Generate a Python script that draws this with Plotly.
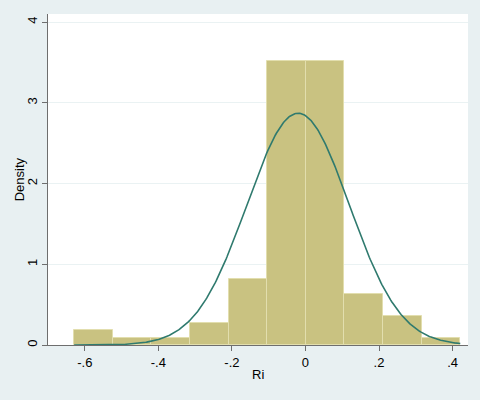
import plotly.graph_objects as go
import numpy as np

# Histogram bins (edges) and densities
bin_edges = [-0.629, -0.524, -0.419, -0.314, -0.209, -0.104, 0.001, 0.106, 0.211, 0.316, 0.421]
densities = [0.18, 0.09, 0.09, 0.27, 0.82, 3.52, 3.52, 0.63, 0.36, 0.09]

# Normal density overlay parameters
normal_mean = -0.020
normal_sd = 0.139

x_tickvals = [-0.6, -0.4, -0.2, 0, 0.2, 0.4]
x_ticktext = ["-.6", "-.4", "-.2", "0", ".2", ".4"]
y_tickvals = [0, 1, 2, 3, 4]
y_ticktext = ["0", "1", "2", "3", "4"]
x_title = "Ri"
y_title = "Density"

centers = [(a + b) / 2 for a, b in zip(bin_edges[:-1], bin_edges[1:])]
widths = [b - a for a, b in zip(bin_edges[:-1], bin_edges[1:])]

xs = np.linspace(bin_edges[0], bin_edges[-1], 400)
ys = np.exp(-0.5 * ((xs - normal_mean) / normal_sd) ** 2) / (normal_sd * np.sqrt(2 * np.pi))

fig = go.Figure()
fig.add_trace(go.Bar(
    x=centers, y=densities, width=widths,
    marker=dict(color="#C9C281", line=dict(color="#E2DEAE", width=1)),
    hoverinfo="skip", showlegend=False,
))
fig.add_trace(go.Scatter(
    x=xs, y=ys, mode="lines",
    line=dict(color="#2F7A6E", width=1.6),
    hoverinfo="skip", showlegend=False,
))

font = dict(family="Liberation Sans, Arial, Helvetica, sans-serif", size=13, color="#000000")

fig.update_layout(
    width=480, height=400,
    paper_bgcolor="#E8F0F2",
    plot_bgcolor="#FFFFFF",
    margin=dict(l=48, r=12, t=14, b=55, autoexpand=False),
    font=font,
    bargap=0,
    xaxis=dict(
        range=[-0.70, 0.442],
        tickvals=x_tickvals, ticktext=x_ticktext,
        showgrid=False, zeroline=False, automargin=False,
        showline=True, linecolor="#6E6E6E", linewidth=1,
        ticks="outside", ticklen=5, tickcolor="#6E6E6E",
        tickfont=font,
    ),
    yaxis=dict(
        range=[0, 4.1],
        tickvals=y_tickvals, ticktext=y_ticktext,
        tickangle=-90,
        showgrid=True, gridcolor="#EAF2F3", gridwidth=1,
        zeroline=False, automargin=False,
        showline=True, linecolor="#6E6E6E", linewidth=1,
        ticks="outside", ticklen=5, tickcolor="#6E6E6E",
        tickfont=font,
    ),
    annotations=[
        dict(text=x_title, xref="paper", yref="paper", x=0.5, y=-0.088,
             xanchor="center", yanchor="middle", showarrow=False, font=font),
        dict(text=y_title, xref="paper", yref="paper", x=-0.067, y=0.5,
             xanchor="center", yanchor="middle", textangle=-90, showarrow=False, font=font),
    ],
)

fig.write_html(
    "out.html",
    config={"displayModeBar": False},
    post_script="document.body.style.margin='0';document.body.style.padding='0';",
)
